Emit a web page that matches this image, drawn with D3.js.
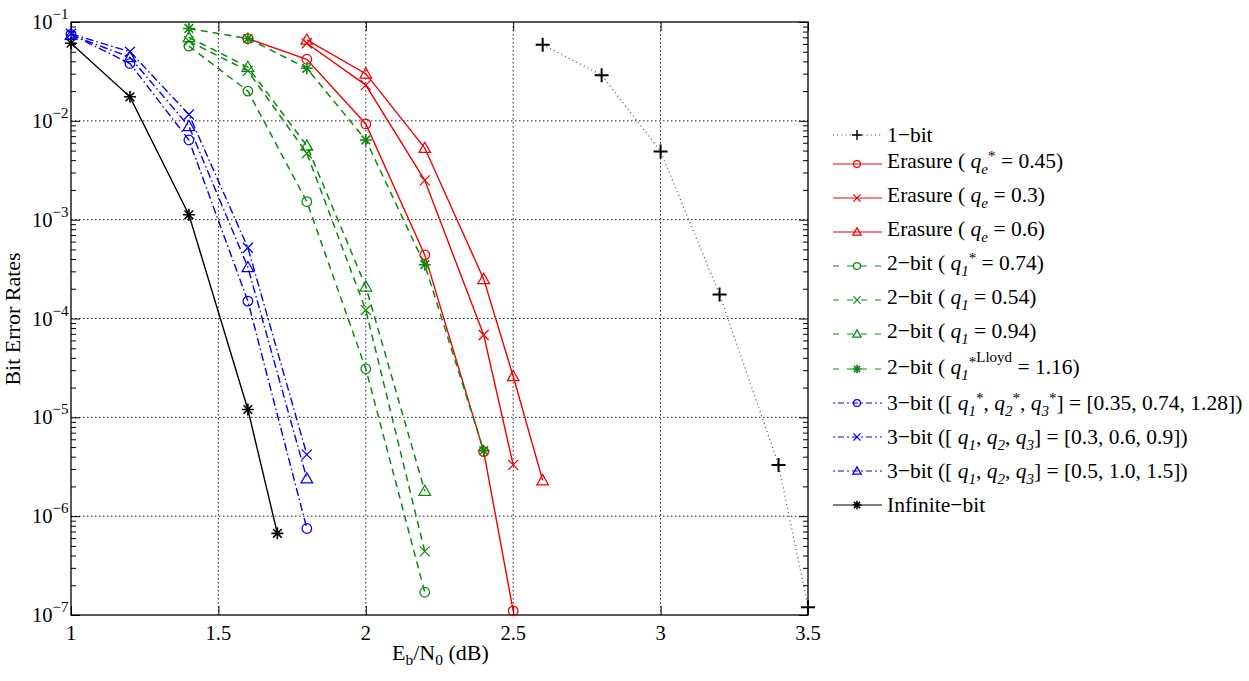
<!DOCTYPE html>
<html>
<head>
<meta charset="utf-8">
<script src="https://cdn.jsdelivr.net/npm/d3@7/dist/d3.min.js"></script>
<style>
  html, body { margin: 0; padding: 0; background: #fff; }
  svg { display: block; font-family: "Liberation Serif", "Times New Roman", serif; }
</style>
</head>
<body>
<svg id="chart" width="1249" height="681"></svg>
<script>
// ---------------- DATA ----------------
const xTickValues = [1, 1.5, 2, 2.5, 3, 3.5];
const xTickLabels = ["1", "1.5", "2", "2.5", "3", "3.5"];
const yTickExponents = [-1, -2, -3, -4, -5, -6, -7];

const ebn0_1bit = [2.6, 2.8, 3.0, 3.2, 3.4, 3.5];
const ber_1bit  = [5.9e-2, 2.9e-2, 4.9e-3, 1.75e-4, 3.3e-6, 1.2e-7];

const ebn0_erasureOpt = [1.6, 1.8, 2.0, 2.2, 2.4, 2.5];
const ber_erasureOpt  = [6.8e-2, 4.2e-2, 9.3e-3, 4.4e-4, 4.5e-6, 1.1e-7];
const ebn0_erasure03 = [1.8, 2.0, 2.2, 2.4, 2.5];
const ber_erasure03  = [6.1e-2, 2.3e-2, 2.5e-3, 6.8e-5, 3.3e-6];
const ebn0_erasure06 = [1.8, 2.0, 2.2, 2.4, 2.5, 2.6];
const ber_erasure06  = [6.6e-2, 3.0e-2, 5.3e-3, 2.5e-4, 2.6e-5, 2.3e-6];

const ebn0_2bit = [1.4, 1.6, 1.8, 2.0, 2.2];
const ber_2bitOpt = [5.7e-2, 2.0e-2, 1.52e-3, 3.1e-5, 1.7e-7];
const ber_2bit054 = [6.4e-2, 3.2e-2, 4.7e-3, 1.22e-4, 4.4e-7];
const ber_2bit094 = [7.0e-2, 3.5e-2, 5.6e-3, 2.1e-4, 1.8e-6];
const ebn0_2bitLloyd = [1.4, 1.6, 1.8, 2.0, 2.2, 2.4];
const ber_2bitLloyd  = [8.6e-2, 6.8e-2, 3.4e-2, 6.4e-3, 3.5e-4, 4.6e-6];

const ebn0_3bit = [1.0, 1.2, 1.4, 1.6, 1.8];
const ber_3bitOpt = [7.5e-2, 3.8e-2, 6.4e-3, 1.5e-4, 7.5e-7];
const ber_3bit03  = [7.6e-2, 5.0e-2, 1.16e-2, 5.2e-4, 4.2e-6];
const ber_3bit05  = [7.4e-2, 4.4e-2, 8.8e-3, 3.3e-4, 2.4e-6];

const ebn0_inf = [1.0, 1.2, 1.4, 1.6, 1.7];
const ber_inf  = [6.1e-2, 1.75e-2, 1.12e-3, 1.2e-5, 6.7e-7];

// legend label segments (text content)
const legendLabels = [
  [{t: "1−bit"}],
  [{t: "Erasure ( "}, {t: "q", i: 1}, {t: "e", i: 1, sub: 1}, {t: "*", sup: 1}, {t: " = 0.45)"}],
  [{t: "Erasure ( "}, {t: "q", i: 1}, {t: "e", i: 1, sub: 1}, {t: " = 0.3)"}],
  [{t: "Erasure ( "}, {t: "q", i: 1}, {t: "e", i: 1, sub: 1}, {t: " = 0.6)"}],
  [{t: "2−bit ( "}, {t: "q", i: 1}, {t: "1", i: 1, sub: 1}, {t: "*", sup: 1}, {t: " = 0.74)"}],
  [{t: "2−bit ( "}, {t: "q", i: 1}, {t: "1", i: 1, sub: 1}, {t: " = 0.54)"}],
  [{t: "2−bit ( "}, {t: "q", i: 1}, {t: "1", i: 1, sub: 1}, {t: " = 0.94)"}],
  [{t: "2−bit ( "}, {t: "q", i: 1}, {t: "1", i: 1, sub: 1}, {t: "*", sup: 1}, {t: "Lloyd", sup2: 1}, {t: " = 1.16)"}],
  [{t: "3−bit ([ "}, {t: "q", i: 1}, {t: "1", i: 1, sub: 1}, {t: "*", sup: 1}, {t: ", "}, {t: "q", i: 1}, {t: "2", i: 1, sub: 1}, {t: "*", sup: 1}, {t: ", "}, {t: "q", i: 1}, {t: "3", i: 1, sub: 1}, {t: "*", sup: 1}, {t: "] = [0.35, 0.74, 1.28])"}],
  [{t: "3−bit ([ "}, {t: "q", i: 1}, {t: "1", i: 1, sub: 1}, {t: ", "}, {t: "q", i: 1}, {t: "2", i: 1, sub: 1}, {t: ", "}, {t: "q", i: 1}, {t: "3", i: 1, sub: 1}, {t: "] = [0.3, 0.6, 0.9])"}],
  [{t: "3−bit ([ "}, {t: "q", i: 1}, {t: "1", i: 1, sub: 1}, {t: ", "}, {t: "q", i: 1}, {t: "2", i: 1, sub: 1}, {t: ", "}, {t: "q", i: 1}, {t: "3", i: 1, sub: 1}, {t: "] = [0.5, 1.0, 1.5])"}],
  [{t: "Infinite−bit"}]
];

// ---------------- STYLE / SERIES TABLE ----------------
const RED = "#f00000", GREEN = "#0b8a0b", BLUE = "#0000f0", BLACK = "#000";
const DOT = "1,3.2", DASH = "7,5", DASHDOT = "8,3,1.5,3";
const series = [
  {x: ebn0_1bit, y: ber_1bit, color: "#555", marker: "plus", dash: DOT, w: 1.3, mcolor: BLACK, z: 1},
  {x: ebn0_erasureOpt, y: ber_erasureOpt, color: RED, marker: "circle", dash: null, w: 1.4, z: 1},
  {x: ebn0_erasure03, y: ber_erasure03, color: RED, marker: "x", dash: null, w: 1.4, z: 1},
  {x: ebn0_erasure06, y: ber_erasure06, color: RED, marker: "tri", dash: null, w: 1.4, z: 1},
  {x: ebn0_2bit, y: ber_2bitOpt, color: GREEN, marker: "circle", dash: DASH, w: 1.5, z: 1},
  {x: ebn0_2bit, y: ber_2bit054, color: GREEN, marker: "x", dash: DASH, w: 1.5, z: 1},
  {x: ebn0_2bit, y: ber_2bit094, color: GREEN, marker: "tri", dash: DASH, w: 1.5, z: 1},
  {x: ebn0_2bitLloyd, y: ber_2bitLloyd, color: GREEN, marker: "star", dash: DASH, w: 1.5, z: 1},
  {x: ebn0_3bit, y: ber_3bitOpt, color: BLUE, marker: "circle", dash: DASHDOT, w: 1.4, z: 1},
  {x: ebn0_3bit, y: ber_3bit03, color: BLUE, marker: "x", dash: DASHDOT, w: 1.4, z: 1},
  {x: ebn0_3bit, y: ber_3bit05, color: BLUE, marker: "tri", dash: DASHDOT, w: 1.4, z: 1},
  {x: ebn0_inf, y: ber_inf, color: BLACK, marker: "star", dash: null, w: 1.4, z: 0}
];

// ---------------- LAYOUT ----------------
const svg = d3.select("#chart");
const L = 71, R = 808, T = 22, B = 615;
const FS = 20.5;

const x = d3.scaleLinear().domain([1, 3.5]).range([L, R]);
const y = d3.scaleLog().domain([1e-7, 1e-1]).range([B, T]);

// grid
const grid = svg.append("g").attr("stroke", "#000").attr("stroke-width", 0.9)
  .attr("stroke-dasharray", "1.5,2.5").attr("fill", "none");
xTickValues.filter(v => v > 1 && v < 3.5).forEach(v => {
  grid.append("line").attr("x1", x(v)).attr("x2", x(v)).attr("y1", T).attr("y2", B);
});
yTickExponents.filter(e => e < -1 && e > -7).forEach(e => {
  grid.append("line").attr("x1", L).attr("x2", R).attr("y1", y(Math.pow(10, e))).attr("y2", y(Math.pow(10, e)));
});

// axes with d3 axis (inward ticks)
const minorTicks = [];
for (let e = -7; e < -1; e++) for (let m = 2; m <= 9; m++) minorTicks.push(m * Math.pow(10, e));
const majorY = yTickExponents.map(e => Math.pow(10, e));

function styleAxis(g) {
  g.select(".domain").remove();
  g.selectAll("line").attr("stroke", "#000").attr("stroke-width", 1);
  g.selectAll("text").remove();
}
svg.append("g").attr("transform", `translate(${L},0)`)
  .call(d3.axisLeft(y).tickValues(minorTicks).tickSize(-5)).call(styleAxis);
svg.append("g").attr("transform", `translate(${L},0)`)
  .call(d3.axisLeft(y).tickValues(majorY).tickSize(-9)).call(styleAxis);
svg.append("g").attr("transform", `translate(${R},0)`)
  .call(d3.axisRight(y).tickValues(minorTicks).tickSize(-5)).call(styleAxis);
svg.append("g").attr("transform", `translate(${R},0)`)
  .call(d3.axisRight(y).tickValues(majorY).tickSize(-9)).call(styleAxis);
svg.append("g").attr("transform", `translate(0,${B})`)
  .call(d3.axisBottom(x).tickValues(xTickValues).tickSize(-9)).call(styleAxis);
svg.append("g").attr("transform", `translate(0,${T})`)
  .call(d3.axisTop(x).tickValues(xTickValues).tickSize(-9)).call(styleAxis);

// frame
svg.append("rect").attr("x", L).attr("y", T).attr("width", R - L).attr("height", B - T)
  .attr("fill", "none").attr("stroke", "#000").attr("stroke-width", 1.3);

// tick labels
xTickValues.forEach((v, i) => {
  svg.append("text").attr("x", x(v)).attr("y", 640).attr("text-anchor", "middle")
    .attr("font-size", FS).text(xTickLabels[i]);
});
yTickExponents.forEach(e => {
  const t = svg.append("text").attr("x", 32).attr("y", y(Math.pow(10, e)) + 7).attr("font-size", FS);
  t.append("tspan").text("10");
  t.append("tspan").attr("font-size", 15).attr("dy", -10).text("−" + Math.abs(e));
});

// axis labels
const xl = svg.append("text").attr("x", 392).attr("y", 660).attr("font-size", 22);
xl.append("tspan").text("E");
xl.append("tspan").attr("font-size", 15.5).attr("dy", 5).text("b");
xl.append("tspan").attr("dy", -5).text("/N");
xl.append("tspan").attr("font-size", 15.5).attr("dy", 5).text("0");
xl.append("tspan").attr("dy", -5).text(" (dB)");

svg.append("text").attr("transform", `translate(20,319) rotate(-90)`)
  .attr("text-anchor", "middle").attr("font-size", 22).text("Bit Error Rates");

// markers
function drawMarker(g, type, cx, cy, color, s) {
  const sw = 1.25;
  if (type === "circle") {
    g.append("circle").attr("cx", cx).attr("cy", cy).attr("r", 4.8 * s)
      .attr("fill", "none").attr("stroke", color).attr("stroke-width", sw);
  } else if (type === "x") {
    const h = 5 * s;
    g.append("path").attr("d", `M${cx - h},${cy - h}L${cx + h},${cy + h}M${cx - h},${cy + h}L${cx + h},${cy - h}`)
      .attr("stroke", color).attr("stroke-width", sw).attr("fill", "none");
  } else if (type === "tri") {
    const h = 5.8 * s;
    g.append("path").attr("d", `M${cx},${cy - h}L${cx + h},${cy + h * 0.75}L${cx - h},${cy + h * 0.75}Z`)
      .attr("stroke", color).attr("stroke-width", sw).attr("fill", "none");
  } else if (type === "star") {
    const h = 6 * s, d = 4.3 * s;
    g.append("path").attr("d",
      `M${cx - h},${cy}L${cx + h},${cy}M${cx},${cy - h}L${cx},${cy + h}M${cx - d},${cy - d}L${cx + d},${cy + d}M${cx - d},${cy + d}L${cx + d},${cy - d}`)
      .attr("stroke", color).attr("stroke-width", 1.6).attr("fill", "none");
  } else if (type === "plus") {
    const h = 7 * s;
    g.append("path").attr("d", `M${cx - h},${cy}L${cx + h},${cy}M${cx},${cy - h}L${cx},${cy + h}`)
      .attr("stroke", color).attr("stroke-width", 2 * Math.max(s, 0.6)).attr("fill", "none");
  }
}

const lineGen = d3.line().x(d => x(d[0])).y(d => y(d[1]));
const plot = svg.append("g");
series.slice().sort((a, b) => a.z - b.z).forEach(s => {
  const pts = s.x.map((v, i) => [v, s.y[i]]);
  plot.append("path").attr("d", lineGen(pts)).attr("fill", "none")
    .attr("stroke", s.color).attr("stroke-width", s.w)
    .attr("stroke-dasharray", s.dash);
  pts.forEach(p => drawMarker(plot, s.marker, x(p[0]), y(p[1]), s.mcolor || s.color, 1));
});

// legend
const legLineY = [135, 164, 198, 232, 266, 300, 334, 369, 403, 437, 471, 505];
const legTextDy = [7, 3.5, 3.5, 3.5, 3.5, 3.5, 3.5, 5, 6.5, 6.5, 6.5, 6.5];
const leg = svg.append("g");
series.forEach((s, i) => {
  const ly = legLineY[i];
  leg.append("line").attr("x1", 833).attr("x2", 882).attr("y1", ly).attr("y2", ly)
    .attr("stroke", s.color === "#555" ? "#333" : s.color).attr("stroke-width", 1.2)
    .attr("stroke-dasharray", s.dash === DASH ? "6,8" : s.dash === DASHDOT ? "2,3,6,3" : s.dash);
  drawMarker(leg, s.marker, 857, ly, s.mcolor || s.color, 0.72);
  const t = leg.append("text").attr("x", 887).attr("y", ly + legTextDy[i]).attr("font-size", 21.5);
  let cur = 0;
  legendLabels[i].forEach(seg => {
    const target = seg.sub ? 6 : seg.sup ? -7 : seg.sup2 ? -12 : 0;
    const ts = t.append("tspan").attr("dy", target - cur).text(seg.t);
    cur = target;
    if (seg.i) ts.attr("font-style", "italic");
    if (seg.sub || seg.sup || seg.sup2) ts.attr("font-size", 15);
  });
});
</script>
</body>
</html>
